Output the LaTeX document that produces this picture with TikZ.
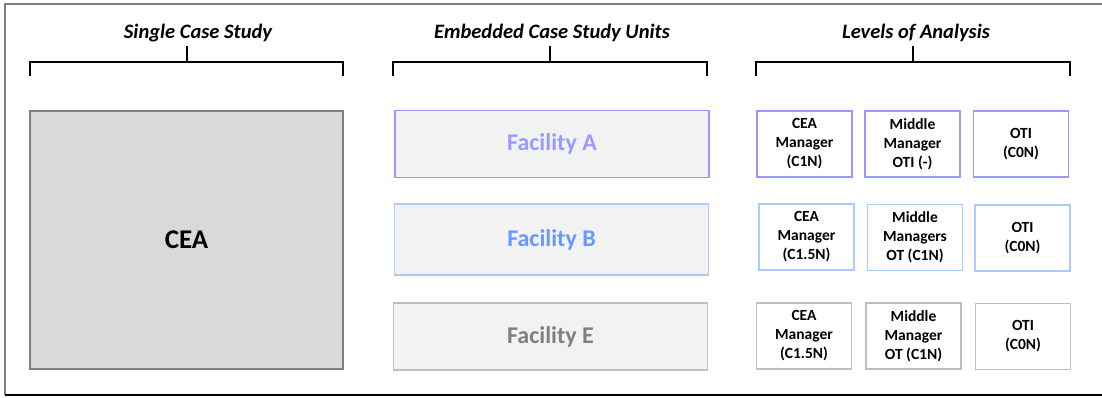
\documentclass[tikz,border=0pt]{standalone}
\usepackage{fontspec}
\setmainfont{Carlito}
\usepackage{tikz}
\usetikzlibrary{positioning}

\definecolor{frameGray}{HTML}{7F7F7F}
\definecolor{ceaFill}{HTML}{D9D9D9}
\definecolor{facFill}{HTML}{F2F2F2}
\definecolor{rowA}{HTML}{9999FF}
\definecolor{rowB}{HTML}{A9CBFF}
\definecolor{rowBtext}{HTML}{6699FF}
\definecolor{rowE}{HTML}{BFBFBF}
\definecolor{rowEtext}{HTML}{808080}

\begin{document}
\begin{tikzpicture}[x=1pt,y=-1pt,
  header/.style={font=\fontsize{20.5}{24}\selectfont\bfseries\itshape},
  facility/.style={draw,fill=facFill,line width=1.2pt,minimum width=314pt,minimum height=67pt,font=\fontsize{24}{28}\selectfont\bfseries},
  level/.style={draw,fill=white,line width=1.2pt,minimum width=95pt,minimum height=66pt,align=center,font=\fontsize{15.5}{19}\selectfont\bfseries}]
\useasboundingbox (0,0) rectangle (1102,397);
% Rahmen
\draw[frameGray,line width=1.5pt] (5,395) -- (5,4) -- (1102,4);
\draw[black,line width=1.5pt] (5,395) -- (1102,395);

% Ueberschriften
\node[header] (hSingle) at (198,33) {Single Case Study};
\node[header] (hEmbedded) at (552,33) {Embedded Case Study Units};
\node[header] (hLevels) at (916,33) {Levels of Analysis};

% Klammern
\foreach \xl/\xm/\xr in {30/187/343, 393/550/707, 756/913/1070}
  \draw[line width=1.1pt] (\xl,76) -- (\xl,62) -- (\xr,62) -- (\xr,76) (\xm,62) -- (\xm,46);

% Fall
\node[draw=frameGray,fill=ceaFill,line width=1.6pt,minimum width=313pt,minimum height=258pt,font=\fontsize{27}{30}\selectfont\bfseries] (cea) at (186.5,240) {CEA};

% Einheiten
\node[facility,draw=rowA,text=rowA] (facA) at (552,144) {Facility A};
\node[facility,draw=rowB,text=rowBtext,minimum height=71pt] (facB) at (551.5,239.5) {Facility B};
\node[facility,draw=rowE,text=rowEtext] (facE) at (550.5,336.5) {Facility E};

% Ebenen
\node[level,draw=rowA] (ceaA) at (804.5,144) {CEA\\Manager\\(C1N)};
\node[level,draw=rowA] (midA) at (912.5,144) {Middle\\Manager\\OTI (-)};
\node[level,draw=rowA] (otiA) at (1021,144) {OTI\\(C0N)};
\node[level,draw=rowB] (ceaB) at (806.5,237) {CEA\\Manager\\(C1.5N)};
\node[level,draw=rowB] (midB) at (915,237.5) {Middle\\Managers\\OT (C1N)};
\node[level,draw=rowB] (otiB) at (1022.5,238) {OTI\\(C0N)};
\node[level,draw=rowE] (ceaE) at (804,336) {CEA\\Manager\\(C1.5N)};
\node[level,draw=rowE] (midE) at (913.5,336) {Middle\\Manager\\OT (C1N)};
\node[level,draw=rowE] (otiE) at (1023,336.5) {OTI\\(C0N)};
\end{tikzpicture}
\end{document}
